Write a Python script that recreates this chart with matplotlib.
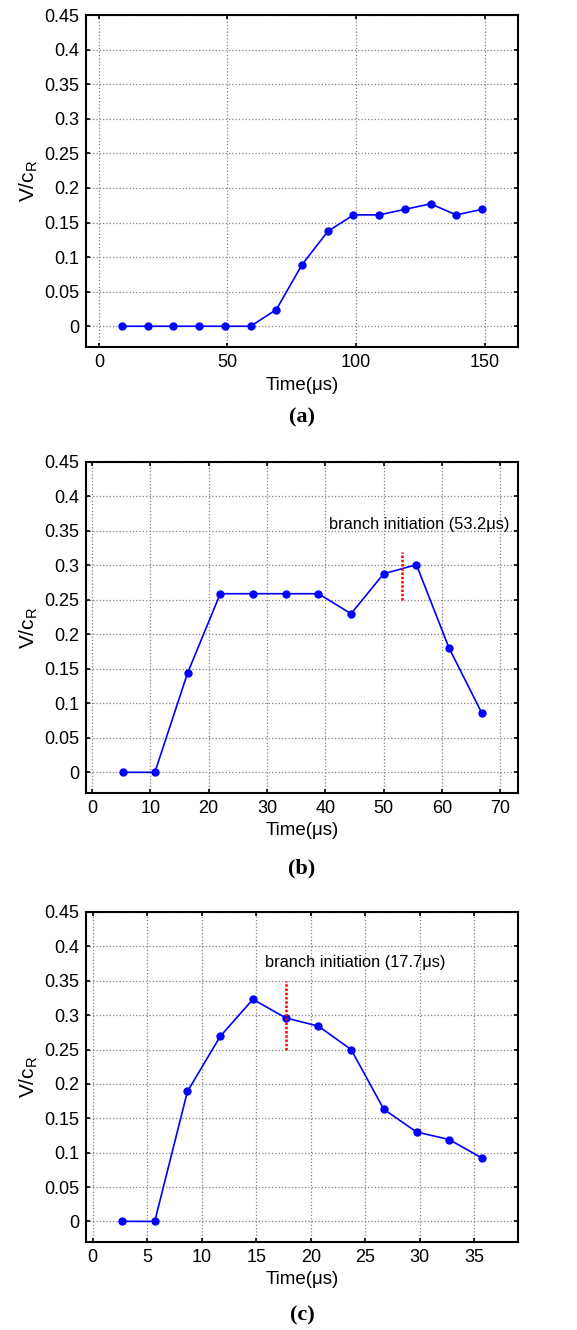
import matplotlib
matplotlib.use("Agg")
import matplotlib.pyplot as plt

plt.rcParams['font.family'] = ['Liberation Sans', 'DejaVu Sans']
plt.rcParams['mathtext.fontset'] = 'custom'
plt.rcParams['mathtext.rm'] = 'Liberation Sans'
plt.rcParams['mathtext.it'] = 'Liberation Sans'

# panel (a)
time_a = [9, 19, 29, 39, 49, 59, 69, 79, 89, 99, 109, 119, 129, 139, 149]
v_a = [0, 0, 0, 0, 0, 0, 0.024, 0.089, 0.137, 0.161, 0.161, 0.169, 0.177, 0.161, 0.169]

# panel (b)
time_b = [5.3, 10.8, 16.4, 22.0, 27.6, 33.2, 38.8, 44.4, 50.0, 55.6, 61.2, 66.8]
v_b = [0, 0, 0.144, 0.259, 0.259, 0.259, 0.259, 0.230, 0.288, 0.301, 0.180, 0.086]
branch_b = 53.2

# panel (c)
time_c = [2.7, 5.7, 8.7, 11.7, 14.7, 17.7, 20.7, 23.7, 26.7, 29.7, 32.7, 35.7]
v_c = [0, 0, 0.189, 0.269, 0.323, 0.296, 0.284, 0.250, 0.163, 0.130, 0.119, 0.092]
branch_c = 17.7

yticks = [0, 0.05, 0.1, 0.15, 0.2, 0.25, 0.3, 0.35, 0.4, 0.45]
ytick_labels = ['0', '0.05', '0.1', '0.15', '0.2', '0.25', '0.3', '0.35', '0.4', '0.45']

fig = plt.figure(figsize=(5.77, 13.3), dpi=100)

W, H = 577, 1330
def rect(l, r, t, b):
    return [l / W, 1 - b / H, (r - l) / W, (b - t) / H]

panels = [
    dict(t=time_a, v=v_a, box=rect(86, 518, 15, 347), xlim=(-5, 163),
         xticks=[0, 50, 100, 150], tag='(a)', tag_y=417, branch=None),
    dict(t=time_b, v=v_b, box=rect(86, 518, 462, 793), xlim=(-1, 73),
         xticks=list(range(0, 71, 10)), tag='(b)', tag_y=868, branch=branch_b,
         blo=0.25, bhi=0.32, txt='branch initiation (53.2μs)', tx=40.6, ty=0.36),
    dict(t=time_c, v=v_c, box=rect(86, 518, 912, 1242), xlim=(-0.6, 39),
         xticks=list(range(0, 36, 5)), tag='(c)', tag_y=1315, branch=branch_c,
         blo=0.25, bhi=0.35, txt='branch initiation (17.7μs)', tx=15.8, ty=0.377),
]

for p in panels:
    ax = fig.add_axes(p['box'])
    ax.plot(p['t'], p['v'], '-o', color='#0000ff', lw=1.2, ms=5)
    if p['branch'] is not None:
        ax.plot([p['branch'], p['branch']], [p['blo'], p['bhi']],
                linestyle=(0, (1, 0.7)), color='red', lw=1.8)
        ax.text(p['tx'], p['ty'], p['txt'], fontsize=11.8, va='center', ha='left')
    ax.set_xlim(*p['xlim'])
    ax.set_ylim(-0.03, 0.45)
    ax.set_xticks(p['xticks'])
    ax.set_yticks(yticks)
    ax.set_yticklabels(ytick_labels)
    ax.grid(True, color='#808080', linestyle=':', linewidth=0.9)
    ax.set_axisbelow(True)
    ax.tick_params(direction='in', length=3, width=1.2, top=True, right=True,
                   labelsize=13, pad=5)
    for s in ax.spines.values():
        s.set_linewidth(1.5)
    ax.set_xlabel('Time(μs)', fontsize=13.5, labelpad=4)
    ax.set_ylabel(r'V/c$_\mathregular{R}$', fontsize=15, labelpad=3)
    fig.text(302 / W, 1 - p['tag_y'] / H, p['tag'], ha='center', va='center',
             fontsize=16, fontweight='bold', family='Liberation Serif')

fig.savefig('out.png', dpi=100)
